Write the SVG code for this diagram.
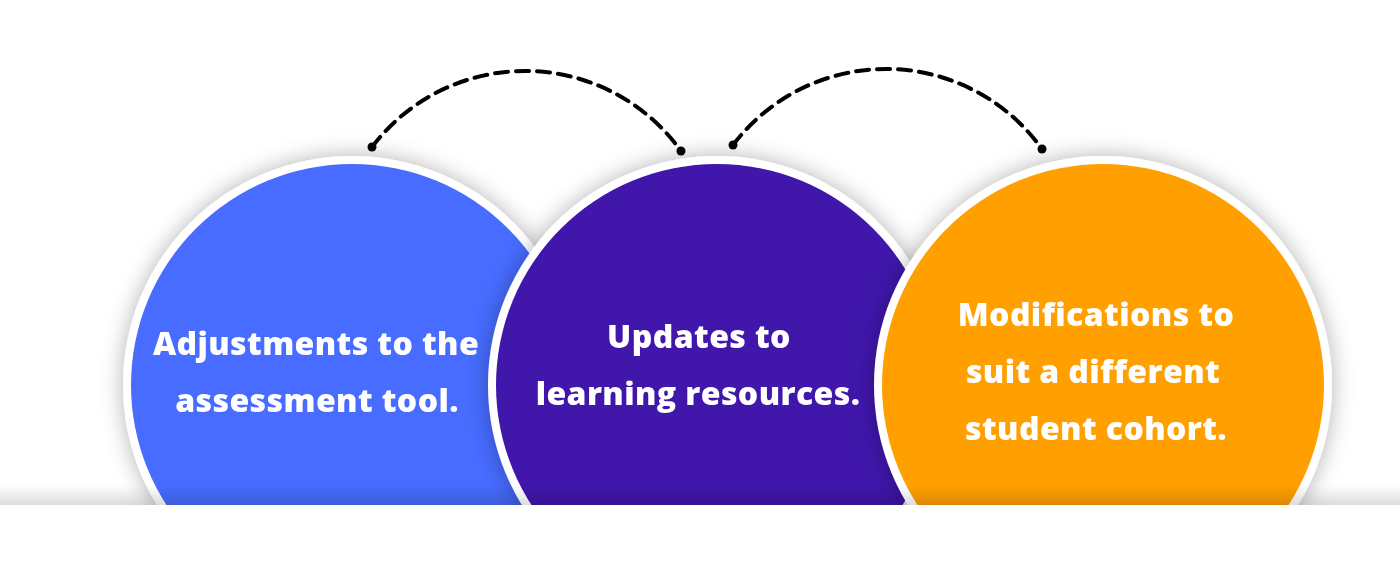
<svg xmlns="http://www.w3.org/2000/svg" width="1400" height="579" viewBox="0 0 1400 579">
  <defs>
    <filter id="shadow" x="-30%" y="-30%" width="160%" height="160%">
      <feDropShadow dx="0" dy="0" stdDeviation="11" flood-color="#000" flood-opacity="0.3"/>
    </filter>
    <linearGradient id="bottomShade" x1="0" y1="0" x2="0" y2="1">
      <stop offset="0" stop-color="#000" stop-opacity="0"/>
      <stop offset="1" stop-color="#000" stop-opacity="0.14"/>
    </linearGradient>
    <style>
      .ring { fill: #ffffff; }
      .label { font-family: "Open Sans", "Liberation Sans", sans-serif; font-weight: 800; font-size: 32px; letter-spacing: 0.4px; fill: #ffffff; text-anchor: middle; }
      .dash { fill: none; stroke: #000; stroke-width: 4; stroke-dasharray: 13 8; stroke-linecap: round; }
      .dot { fill: #000; }
    </style>
  </defs>
  <rect x="0" y="0" width="1400" height="579" fill="#ffffff"/>

  <g id="node-adjustments" filter="url(#shadow)">
    <circle class="ring" cx="352" cy="385" r="229"/>
    <circle cx="352" cy="385" r="221" fill="#476cff"/>
    <text class="label" x="316" y="355">Adjustments to the</text>
    <text class="label" x="317" y="412">assessment tool.</text>
  </g>

  <g id="node-updates" filter="url(#shadow)">
    <circle class="ring" cx="717" cy="385" r="229"/>
    <circle cx="717" cy="385" r="221" fill="#3f15ab"/>
    <text class="label" x="699" y="348">Updates to</text>
    <text class="label" x="698" y="405">learning resources.</text>
  </g>

  <g id="node-modifications" filter="url(#shadow)">
    <circle class="ring" cx="1103" cy="385" r="229"/>
    <circle cx="1103" cy="385" r="221" fill="#ff9f05"/>
    <text class="label" x="1096" y="326">Modifications to</text>
    <text class="label" x="1093" y="383">suit a different</text>
    <text class="label" x="1096" y="440">student cohort.</text>
  </g>

  <g id="connectors">
    <path class="dash" d="M372,147 A192,192 0 0 1 681,151"/>
    <circle class="dot" cx="372" cy="147" r="4.5"/>
    <circle class="dot" cx="681" cy="151" r="4.5"/>
    <path class="dash" d="M733,145 A192,192 0 0 1 1042,149"/>
    <circle class="dot" cx="733" cy="145" r="4.5"/>
    <circle class="dot" cx="1042" cy="149" r="4.5"/>
  </g>

  <rect x="0" y="485" width="1400" height="20" fill="url(#bottomShade)"/>
  <rect x="0" y="505" width="1400" height="74" fill="#ffffff"/>
</svg>
